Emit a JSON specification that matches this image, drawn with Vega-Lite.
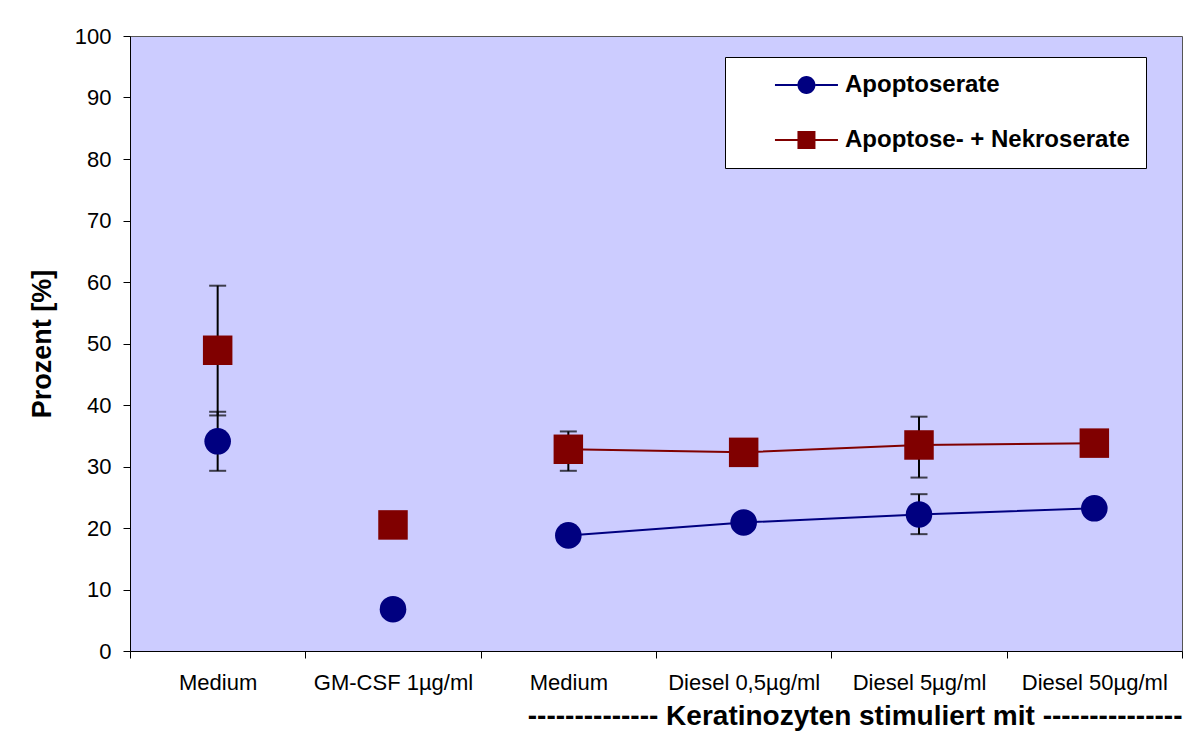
{
  "$schema": "https://vega.github.io/schema/vega-lite/v6.json",
  "autosize": "none",
  "width": 1052,
  "height": 615,
  "padding": {"left": 130, "top": 36, "right": 8, "bottom": 89},
  "background": "white",
  "config": {
    "font": "Liberation Sans",
    "view": {"fill": "#CCCCFF", "stroke": "#555555", "strokeWidth": 1},
    "axis": {"grid": false, "domainColor": "black", "tickColor": "black", "labelColor": "black", "titleColor": "black", "labelFont": "Liberation Sans", "titleFont": "Liberation Sans"}
  },
  "datasets": {
    "pts": [
      {"idx": 0, "cat": "Medium", "series": "Apoptoserate", "value": 34.1, "lo": 29.3, "hi": 38.9},
      {"idx": 0, "cat": "Medium", "series": "Apoptose- + Nekroserate", "value": 48.9, "lo": 38.3, "hi": 59.4},
      {"idx": 1, "cat": "GM-CSF 1µg/ml", "series": "Apoptoserate", "value": 6.8},
      {"idx": 1, "cat": "GM-CSF 1µg/ml", "series": "Apoptose- + Nekroserate", "value": 20.5},
      {"idx": 2, "cat": "Medium", "series": "Apoptoserate", "value": 18.8},
      {"idx": 2, "cat": "Medium", "series": "Apoptose- + Nekroserate", "value": 32.8, "lo": 29.3, "hi": 35.7},
      {"idx": 3, "cat": "Diesel 0,5µg/ml", "series": "Apoptoserate", "value": 20.9},
      {"idx": 3, "cat": "Diesel 0,5µg/ml", "series": "Apoptose- + Nekroserate", "value": 32.3},
      {"idx": 4, "cat": "Diesel 5µg/ml", "series": "Apoptoserate", "value": 22.2, "lo": 19.0, "hi": 25.5},
      {"idx": 4, "cat": "Diesel 5µg/ml", "series": "Apoptose- + Nekroserate", "value": 33.5, "lo": 28.2, "hi": 38.1},
      {"idx": 5, "cat": "Diesel 50µg/ml", "series": "Apoptoserate", "value": 23.2},
      {"idx": 5, "cat": "Diesel 50µg/ml", "series": "Apoptose- + Nekroserate", "value": 33.8}
    ]
  },
  "data": {"name": "pts"},
  "encoding": {
    "x": {
      "field": "idx", "type": "ordinal",
      "scale": {"paddingInner": 0, "paddingOuter": 0},
      "axis": {
        "title": "-------------- Keratinozyten stimuliert mit ---------------",
        "titleFontSize": 28, "titleFontWeight": "bold", "titleAnchor": "end", "titlePadding": 9,
        "labelExpr": "['Medium','GM-CSF 1µg/ml','Medium','Diesel 0,5µg/ml','Diesel 5µg/ml','Diesel 50µg/ml'][datum.value]",
        "labelFontSize": 22, "labelAngle": 0, "labelPadding": 14,
        "tickBand": "extent", "tickSize": 7, "domainColor": "black"
      }
    },
    "y": {
      "field": "value", "type": "quantitative",
      "scale": {"domain": [0, 100], "nice": false},
      "axis": {
        "title": "Prozent [%]", "titleFontSize": 27, "titleFontWeight": "bold", "titlePadding": 18,
        "values": [0, 10, 20, 30, 40, 50, 60, 70, 80, 90, 100],
        "labelFontSize": 22, "labelPadding": 12, "tickSize": 7
      }
    }
  },
  "layer": [
    {
      "transform": [{"filter": "isValid(datum.lo)"}],
      "mark": {"type": "rule", "color": "black", "strokeWidth": 2},
      "encoding": {"y": {"field": "lo", "type": "quantitative"}, "y2": {"field": "hi"}}
    },
    {
      "transform": [{"filter": "isValid(datum.lo)"}],
      "mark": {"type": "tick", "color": "black", "size": 17, "thickness": 2, "orient": "horizontal"},
      "encoding": {"y": {"field": "lo", "type": "quantitative"}}
    },
    {
      "transform": [{"filter": "isValid(datum.hi)"}],
      "mark": {"type": "tick", "color": "black", "size": 17, "thickness": 2, "orient": "horizontal"},
      "encoding": {"y": {"field": "hi", "type": "quantitative"}}
    },
    {
      "transform": [{"filter": "datum.idx >= 2 && datum.series === 'Apoptoserate'"}],
      "mark": {"type": "line", "strokeWidth": 2, "color": "#000080"},
      "encoding": {}
    },
    {
      "transform": [{"filter": "datum.idx >= 2 && datum.series !== 'Apoptoserate'"}],
      "mark": {"type": "line", "strokeWidth": 2, "color": "#800000"},
      "encoding": {}
    },
    {
      "mark": {"type": "point", "filled": true, "opacity": 1, "strokeWidth": 0},
      "encoding": {
        "color": {"condition": {"test": "datum.series === 'Apoptoserate'", "value": "#000080"}, "value": "#800000"},
        "shape": {"condition": {"test": "datum.series === 'Apoptoserate'", "value": "circle"}, "value": "square"},
        "size": {"condition": {"test": "datum.series === 'Apoptoserate'", "value": 707}, "value": 870}
      }
    },
    {
      "mark": {"type": "point", "filled": true, "opacity": 0, "strokeWidth": 0, "size": 324},
      "encoding": {
        "color": {
          "field": "series", "type": "nominal",
          "scale": {"domain": ["Apoptoserate", "Apoptose- + Nekroserate"], "range": ["#000080", "#800000"]},
          "legend": {
            "title": null, "orient": "none", "legendX": 595, "legendY": 21,
            "fillColor": "white", "strokeColor": "black", "padding": 16,
            "labelFontSize": 24, "labelFontWeight": "bold", "labelColor": "black", "labelFont": "Liberation Sans",
            "labelOffset": 80, "rowPadding": 31, "symbolSize": 324, "labelLimit": 500, "symbolOpacity": 1
          }
        },
        "shape": {
          "field": "series", "type": "nominal",
          "scale": {
            "domain": ["Apoptoserate", "Apoptose- + Nekroserate"],
            "range": [
              "M2.44,-0.11H4.94V0.11H2.44Z M6.94,-0.11H9.44V0.11H6.94Z M6.94,0A1,1,0,1,1,4.94,0A1,1,0,1,1,6.94,0Z",
              "M2.44,-0.11H4.94V0.11H2.44Z M6.94,-0.11H9.44V0.11H6.94Z M4.94,-1H6.94V1H4.94Z"
            ]
          },
          "legend": {
            "title": null, "orient": "none", "legendX": 595, "legendY": 21,
            "fillColor": "white", "strokeColor": "black", "padding": 16,
            "labelFontSize": 24, "labelFontWeight": "bold", "labelColor": "black", "labelFont": "Liberation Sans",
            "labelOffset": 80, "rowPadding": 31, "symbolSize": 324, "labelLimit": 500, "symbolOpacity": 1
          }
        }
      }
    }
  ]
}
